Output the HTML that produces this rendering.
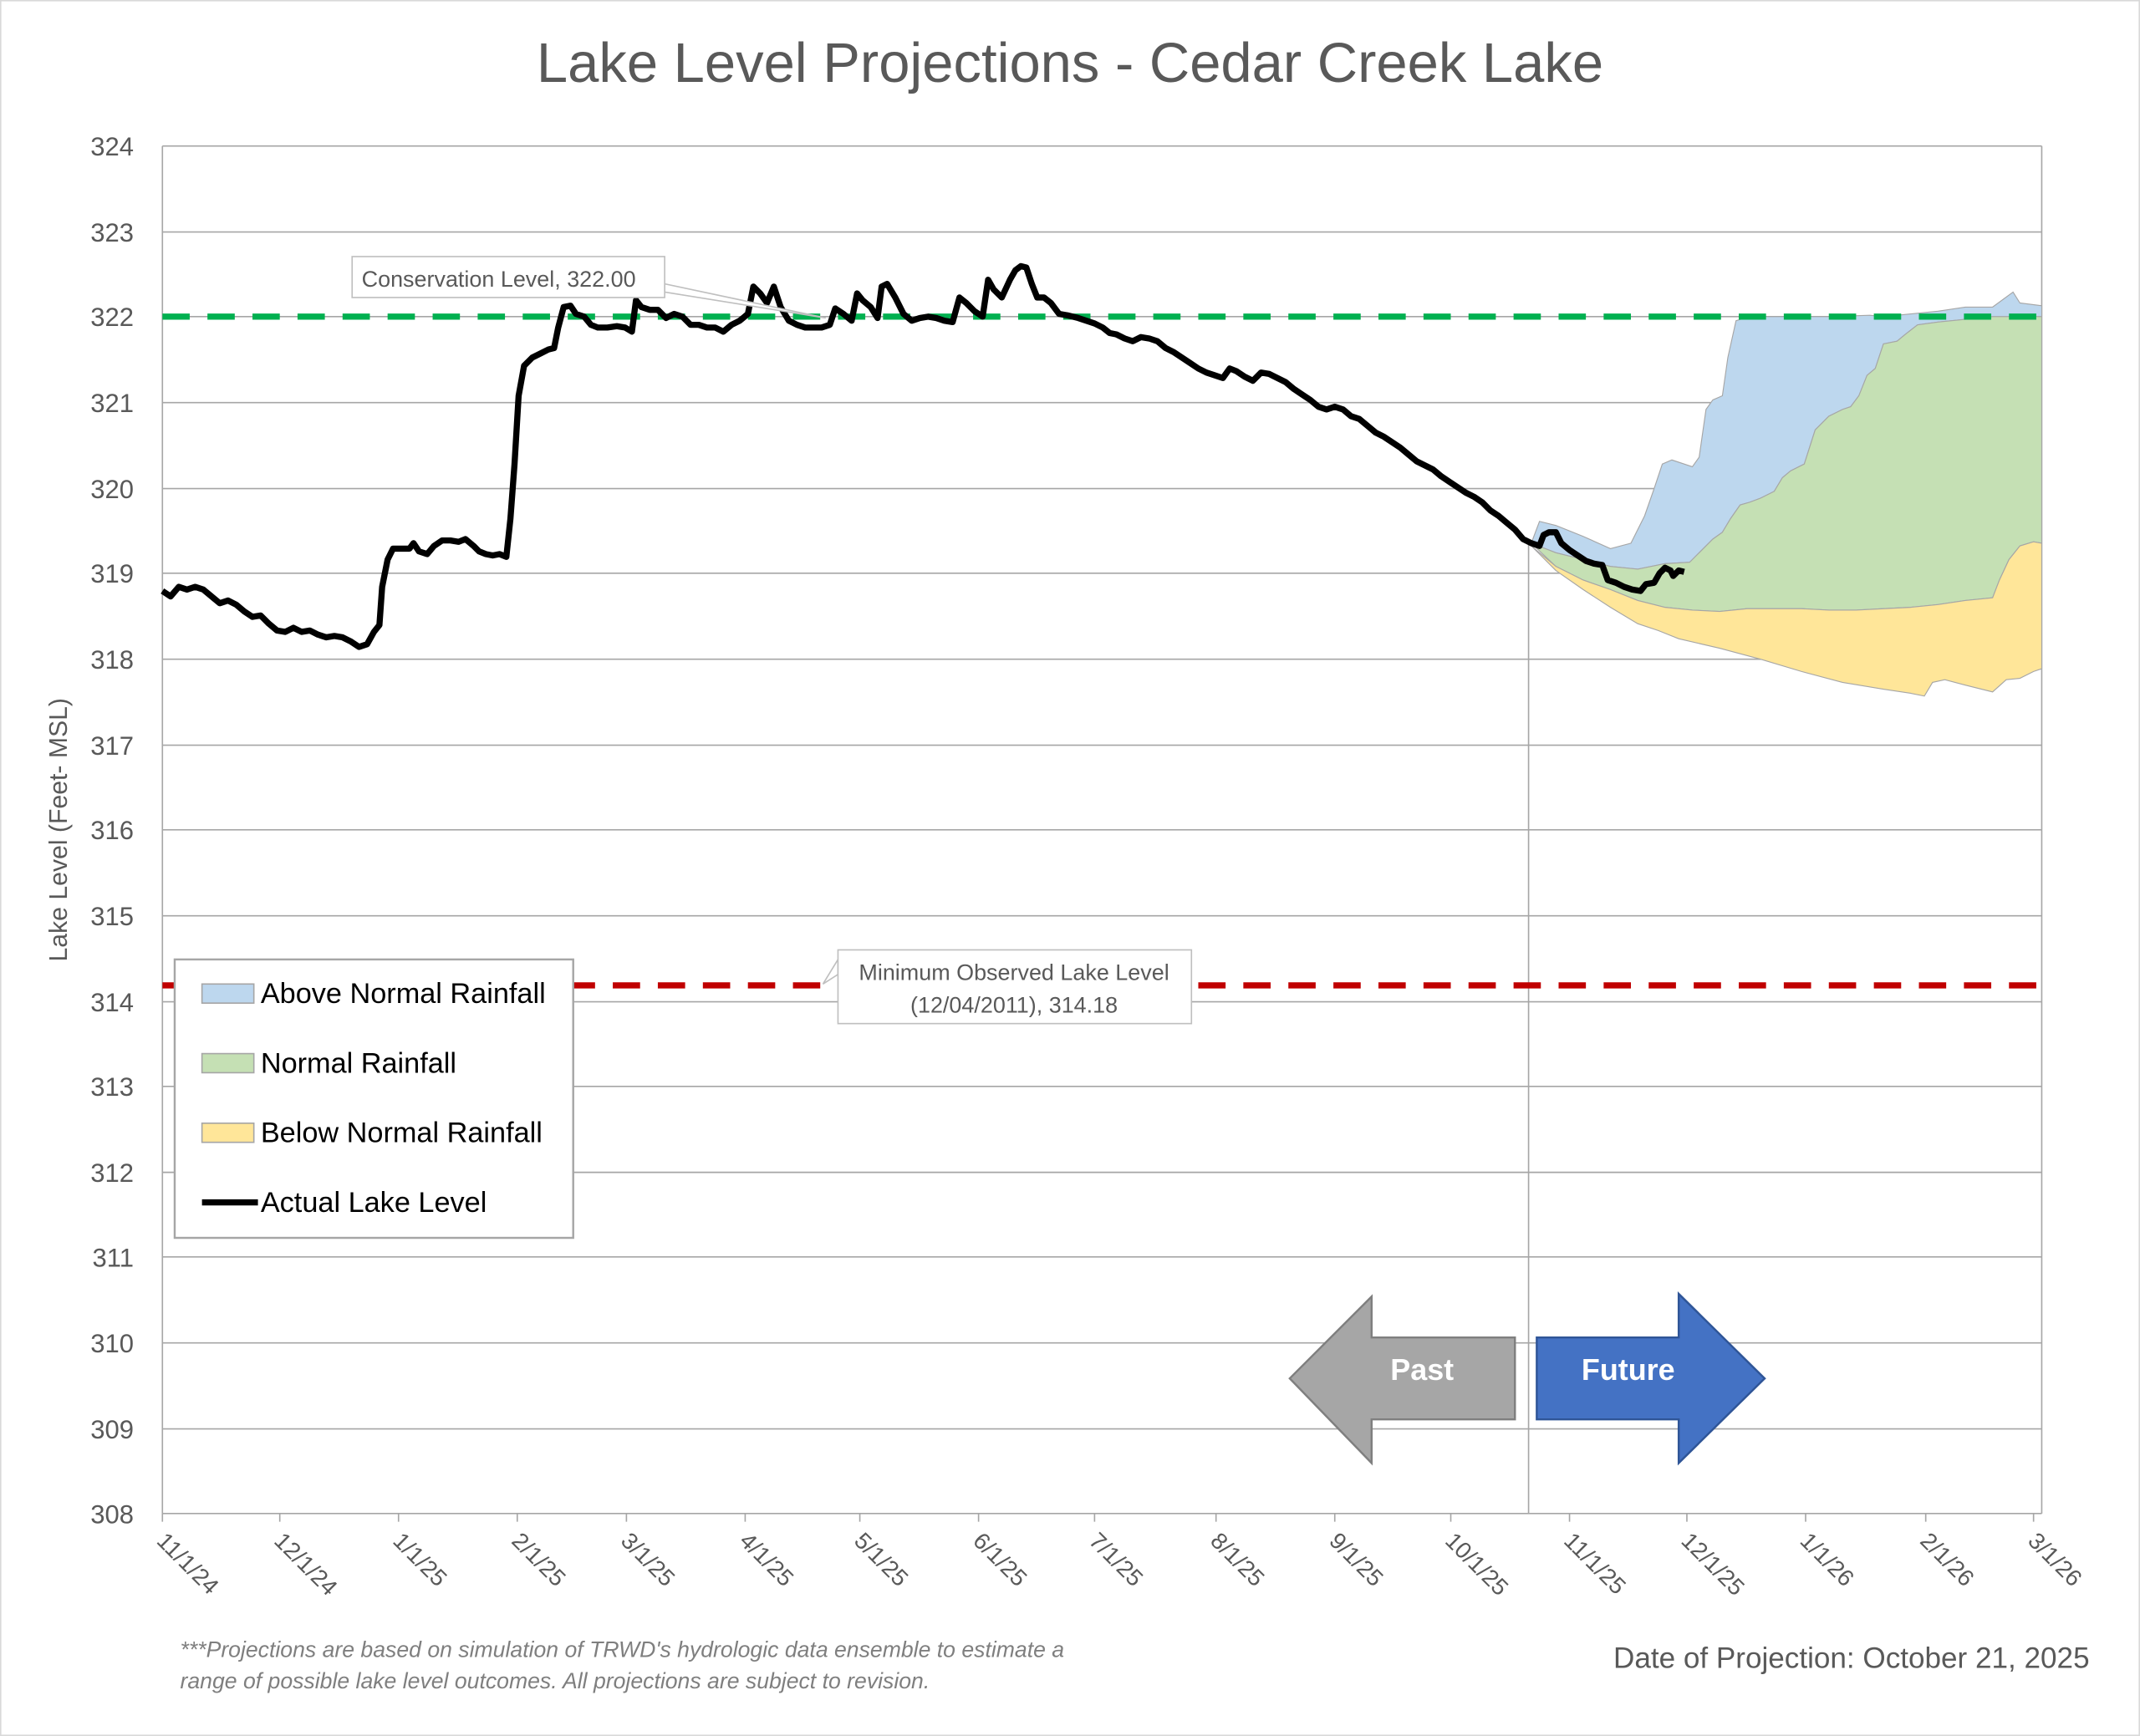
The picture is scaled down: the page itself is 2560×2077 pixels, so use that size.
<!DOCTYPE html>
<html><head><meta charset="utf-8"><style>html,body{margin:0;padding:0;background:#fff}svg{display:block}</style></head><body>
<svg width="2560" height="2077" viewBox="0 0 1568 1272" preserveAspectRatio="none" xmlns="http://www.w3.org/2000/svg" font-family="Liberation Sans, sans-serif">
<rect x="0.5" y="0.5" width="1567" height="1271" fill="#fff" stroke="#d9d9d9"/>
<text x="784" y="60" text-anchor="middle" font-size="41" fill="#595959">Lake Level Projections - Cedar Creek Lake</text>
<g stroke="#a6a6a6" stroke-width="1">
<line x1="119" y1="107" x2="1496" y2="107"/><line x1="119" y1="170" x2="1496" y2="170"/><line x1="119" y1="232" x2="1496" y2="232"/><line x1="119" y1="295" x2="1496" y2="295"/><line x1="119" y1="358" x2="1496" y2="358"/><line x1="119" y1="420" x2="1496" y2="420"/><line x1="119" y1="483" x2="1496" y2="483"/><line x1="119" y1="546" x2="1496" y2="546"/><line x1="119" y1="608" x2="1496" y2="608"/><line x1="119" y1="671" x2="1496" y2="671"/><line x1="119" y1="734" x2="1496" y2="734"/><line x1="119" y1="796" x2="1496" y2="796"/><line x1="119" y1="859" x2="1496" y2="859"/><line x1="119" y1="921" x2="1496" y2="921"/><line x1="119" y1="984" x2="1496" y2="984"/><line x1="119" y1="1047" x2="1496" y2="1047"/>
<line x1="119" y1="107" x2="119" y2="1109"/><line x1="1496" y1="107" x2="1496" y2="1109"/>
<line x1="1120" y1="395" x2="1120" y2="1109"/>
</g>
<line x1="119" y1="1109" x2="1496" y2="1109" stroke="#a6a6a6"/>
<g stroke="#a6a6a6"><line x1="119" y1="1109" x2="119" y2="1115"/><line x1="205" y1="1109" x2="205" y2="1115"/><line x1="292" y1="1109" x2="292" y2="1115"/><line x1="379" y1="1109" x2="379" y2="1115"/><line x1="459" y1="1109" x2="459" y2="1115"/><line x1="546" y1="1109" x2="546" y2="1115"/><line x1="630" y1="1109" x2="630" y2="1115"/><line x1="717" y1="1109" x2="717" y2="1115"/><line x1="802" y1="1109" x2="802" y2="1115"/><line x1="891" y1="1109" x2="891" y2="1115"/><line x1="978" y1="1109" x2="978" y2="1115"/><line x1="1063" y1="1109" x2="1063" y2="1115"/><line x1="1150" y1="1109" x2="1150" y2="1115"/><line x1="1236" y1="1109" x2="1236" y2="1115"/><line x1="1323" y1="1109" x2="1323" y2="1115"/><line x1="1411" y1="1109" x2="1411" y2="1115"/><line x1="1490" y1="1109" x2="1490" y2="1115"/></g>
<g font-size="19" fill="#595959" text-anchor="end">
<text x="98" y="114">324</text><text x="98" y="177">323</text><text x="98" y="239">322</text><text x="98" y="302">321</text><text x="98" y="365">320</text><text x="98" y="427">319</text><text x="98" y="490">318</text><text x="98" y="553">317</text><text x="98" y="615">316</text><text x="98" y="678">315</text><text x="98" y="741">314</text><text x="98" y="803">313</text><text x="98" y="866">312</text><text x="98" y="928">311</text><text x="98" y="991">310</text><text x="98" y="1054">309</text><text x="98" y="1116">308</text>
</g>
<text transform="translate(49,608) rotate(-90)" text-anchor="middle" font-size="18.5" fill="#595959">Lake Level (Feet- MSL)</text>
<g font-size="17" fill="#595959">
<text transform="translate(114,1130) rotate(45)">11/1/24</text><text transform="translate(200,1130) rotate(45)">12/1/24</text><text transform="translate(287,1130) rotate(45)">1/1/25</text><text transform="translate(374,1130) rotate(45)">2/1/25</text><text transform="translate(454,1130) rotate(45)">3/1/25</text><text transform="translate(541,1130) rotate(45)">4/1/25</text><text transform="translate(625,1130) rotate(45)">5/1/25</text><text transform="translate(712,1130) rotate(45)">6/1/25</text><text transform="translate(797,1130) rotate(45)">7/1/25</text><text transform="translate(886,1130) rotate(45)">8/1/25</text><text transform="translate(973,1130) rotate(45)">9/1/25</text><text transform="translate(1058,1130) rotate(45)">10/1/25</text><text transform="translate(1145,1130) rotate(45)">11/1/25</text><text transform="translate(1231,1130) rotate(45)">12/1/25</text><text transform="translate(1318,1130) rotate(45)">1/1/26</text><text transform="translate(1406,1130) rotate(45)">2/1/26</text><text transform="translate(1485,1130) rotate(45)">3/1/26</text>
</g>
<polygon fill="#bdd7ee" stroke="#a6a6a6" stroke-width="0.7" points="1122,398 1128,382 1140,385 1160,393 1180,402 1195,398 1205,378 1212,358 1218,340 1225,337 1240,342 1245,335 1250,300 1255,293 1262,290 1266,262 1272,235 1282,232 1300,232 1340,232 1370,231 1380,232 1400,230 1420,228 1440,225 1460,225 1475,214 1480,222 1496,224 1496,232 1460,232 1440,234 1420,236 1405,238 1396,245 1390,250 1380,252 1374,270 1368,275 1362,290 1356,298 1350,300 1340,305 1330,315 1322,340 1312,345 1306,350 1300,360 1290,365 1282,368 1275,370 1268,380 1262,390 1255,395 1245,405 1238,412 1220,413 1200,417 1180,415 1160,410 1140,405"/>
<polygon fill="#c5e0b4" stroke="#a6a6a6" stroke-width="0.7" points="1122,398 1140,405 1160,410 1180,415 1200,417 1220,413 1238,412 1245,405 1255,395 1262,390 1268,380 1275,370 1282,368 1290,365 1300,360 1306,350 1312,345 1322,340 1330,315 1340,305 1350,300 1356,298 1362,290 1368,275 1374,270 1380,252 1390,250 1396,245 1405,238 1420,236 1440,234 1460,232 1496,232 1496,398 1490,397 1480,400 1472,410 1465,425 1460,438 1440,440 1420,443 1400,445 1380,446 1360,447 1340,447 1320,446 1300,446 1280,446 1260,448 1240,447 1220,445 1200,440 1180,432 1160,425 1140,415"/>
<polygon fill="#ffe699" stroke="#a6a6a6" stroke-width="0.7" points="1122,400 1140,415 1160,425 1180,432 1200,440 1220,445 1240,447 1260,448 1280,446 1300,446 1320,446 1340,447 1360,447 1380,446 1400,445 1420,443 1440,440 1460,438 1465,425 1472,410 1480,400 1490,397 1496,398 1496,490 1490,492 1480,497 1470,498 1460,507 1440,502 1425,498 1416,500 1410,510 1400,508 1380,505 1350,500 1320,492 1290,483 1260,475 1230,468 1215,462 1200,457 1180,445 1160,432 1140,418"/>
<line x1="119" y1="232" x2="1496" y2="232" stroke="#00b050" stroke-width="4.5" stroke-dasharray="20,13"/>
<line x1="119" y1="722" x2="1496" y2="722" stroke="#c00000" stroke-width="4.5" stroke-dasharray="20,13"/>
<polyline fill="none" stroke="#000" stroke-width="4.5" stroke-linejoin="round" points="119,433 125,437 131,430 137,432 143,430 149,432 155,437 161,442 167,440 173,443 179,448 185,452 191,451 197,457 203,462 209,463 215,460 221,463 227,462 233,465 239,467 245,466 251,467 257,470 263,474 269,472 274,463 278,458 280,430 284,410 288,402 294,402 300,402 303,398 307,404 313,406 318,400 324,396 330,396 336,397 341,395 347,400 351,404 356,406 361,407 366,406 371,408 374,380 377,340 380,290 384,268 390,262 396,259 402,256 406,255 409,240 413,225 418,224 422,230 428,232 433,238 438,240 445,240 452,239 458,240 463,243 466,220 470,225 476,227 482,227 488,233 494,230 500,232 506,238 512,238 518,240 524,240 530,243 536,238 542,235 548,230 552,210 557,215 562,222 567,210 572,225 578,235 584,238 590,240 596,240 602,240 608,238 612,226 618,230 624,235 628,215 632,220 638,225 643,233 646,210 650,208 656,218 662,230 668,235 674,233 680,232 686,233 692,235 698,236 703,218 708,222 714,228 720,232 724,205 728,212 734,218 740,205 744,198 748,195 752,196 756,208 760,218 765,218 770,222 776,230 782,231 790,233 796,235 802,237 808,240 813,244 818,245 824,248 830,250 836,247 842,248 848,250 854,255 860,258 866,262 872,266 878,270 884,273 890,275 896,277 901,270 906,272 912,276 918,279 924,273 930,274 936,277 942,280 948,285 954,289 960,293 966,298 972,300 978,298 984,300 990,305 996,307 1002,312 1008,317 1014,320 1020,324 1026,328 1032,333 1038,338 1044,341 1050,344 1056,349 1062,353 1068,357 1074,361 1080,364 1086,368 1092,374 1098,378 1104,383 1110,388 1116,395 1122,398 1128,400 1131,392 1135,390 1140,390 1144,398 1150,403 1156,407 1162,411 1168,413 1174,414 1178,425 1184,427 1190,430 1196,432 1202,433 1206,428 1212,427 1216,420 1220,416 1224,418 1226,422 1230,418 1234,419"/>
<polygon points="487,208 487,214 605,233" fill="#fff" stroke="#bfbfbf"/>
<rect x="258" y="188" width="229" height="30" fill="#fff" stroke="#bfbfbf"/>
<text x="265" y="210" font-size="16.5" fill="#595959">Conservation Level, 322.00</text>
<polygon points="614,703 614,714 603,721" fill="#fff" stroke="#bfbfbf"/>
<rect x="614" y="696" width="259" height="54" fill="#fff" stroke="#bfbfbf"/>
<text x="743" y="718" text-anchor="middle" font-size="16.5" fill="#595959">Minimum Observed Lake Level</text>
<text x="743" y="742" text-anchor="middle" font-size="16.5" fill="#595959">(12/04/2011), 314.18</text>
<rect x="128" y="703" width="292" height="204" fill="#fff" stroke="#a6a6a6" stroke-width="1.5"/>
<rect x="148" y="721" width="38" height="14" fill="#bdd7ee" stroke="#a6a6a6"/><text x="191" y="735" font-size="21" fill="#000">Above Normal Rainfall</text>
<rect x="148" y="772" width="38" height="14" fill="#c5e0b4" stroke="#a6a6a6"/><text x="191" y="786" font-size="21" fill="#000">Normal Rainfall</text>
<rect x="148" y="823" width="38" height="14" fill="#ffe699" stroke="#a6a6a6"/><text x="191" y="837" font-size="21" fill="#000">Below Normal Rainfall</text>
<line x1="148" y1="881" x2="189" y2="881" stroke="#000" stroke-width="4.5"/><text x="191" y="888" font-size="21" fill="#000">Actual Lake Level</text>
<polygon points="945,1010 1005,950 1005,980 1110,980 1110,1040 1005,1040 1005,1072" fill="#a6a6a6" stroke="#7f7f7f" stroke-width="1.5"/>
<text x="1042" y="1011" text-anchor="middle" font-size="22" font-weight="bold" fill="#fff">Past</text>
<polygon points="1293,1010 1230,948 1230,980 1126,980 1126,1040 1230,1040 1230,1072" fill="#4472c4" stroke="#2f5597" stroke-width="1.5"/>
<text x="1193" y="1011" text-anchor="middle" font-size="22" font-weight="bold" fill="#fff">Future</text>
<text x="132" y="1214" font-size="16.3" font-style="italic" fill="#7f7f7f">***Projections are based on simulation of TRWD's hydrologic data ensemble to estimate a</text>
<text x="132" y="1237" font-size="16.3" font-style="italic" fill="#7f7f7f">range of possible lake level outcomes.  All projections are subject to revision.</text>
<text x="1531" y="1222" text-anchor="end" font-size="21.5" fill="#595959">Date of Projection: October 21, 2025</text>
</svg>
</body></html>
